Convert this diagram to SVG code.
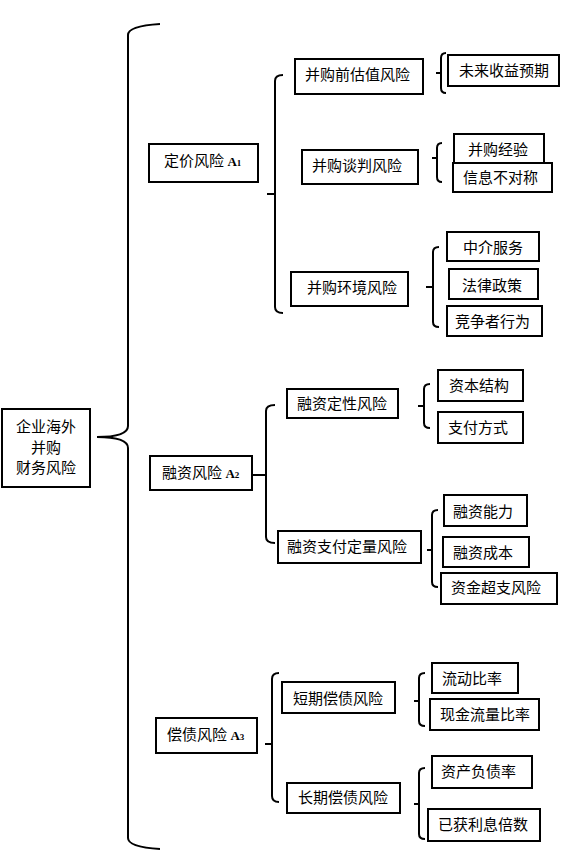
<svg xmlns="http://www.w3.org/2000/svg" width="568" height="861" viewBox="0 0 568 861">
<style>
.box{fill:#fff;stroke:#000;stroke-width:2}
.t{font-family:"Noto Sans CJK SC","Noto Sans",sans-serif;font-size:15px;fill:#000}
.a{font-family:"Liberation Serif",serif;font-size:13px;font-weight:bold;fill:#000}
.s{font-size:9px}
.br{fill:none;stroke:#000;stroke-width:2}
</style>
<rect width="568" height="861" fill="#fff"/>
<g id="connectors">
<path class="br" d="M160,24 Q128,26 128,35 L128,426 Q128,437 97,437 Q128,437 128,448 L128,838 Q128,847 160,849"/>
<path class="br" d="M283,75 Q275,75 275,81 L275,307 Q275,313 283,313 M267,194 L275,194"/>
<path class="br" d="M275,405 Q266,405 266,411 L266,537 Q266,543 275,543 M253,475 L266,475"/>
<path class="br" d="M279,673 Q272,673 272,679 L272,796 Q272,802 279,802 M265,744 L272,744"/>
<path class="br" d="M446,53 Q441,53 441,58 L441,88 Q441,93 446,93 M436,73 L441,73"/>
<path class="br" d="M442,143 Q437,143 437,148 L437,177 Q437,182 442,182 M432,158 L437,158"/>
<path class="br" d="M439,247 Q433,247 433,252 L433,322 Q433,327 439,327 M426,287 L433,287"/>
<path class="br" d="M430,384 Q424,384 424,389 L424,423 Q424,428 430,428 M418,406 L424,406"/>
<path class="br" d="M438,510 Q432,510 432,515 L432,582 Q432,587 438,587 M427,550 L432,550"/>
<path class="br" d="M425,673 Q419,673 419,678 L419,721 Q419,726 425,726 M414,701 L419,701"/>
<path class="br" d="M425,768 Q419,768 419,773 L419,834 Q419,839 425,839 M414,804 L419,804"/>
</g>
<g id="root"><rect class="box" x="2" y="409" width="88" height="78"/>
<text class="t" x="46" y="432" text-anchor="middle">企业海外</text>
<text class="t" x="46" y="453" text-anchor="middle">并购</text>
<text class="t" x="46" y="473" text-anchor="middle">财务风险</text></g>
<g id="pricing"><rect class="box" x="149" y="144" width="109" height="38"/>
<text class="t" x="164" y="166">定价风险 <tspan class="a">A<tspan class="s">1</tspan></tspan></text></g>
<g id="financing"><rect class="box" x="150" y="456" width="102" height="34"/>
<text class="t" x="162" y="478">融资风险 <tspan class="a">A<tspan class="s">2</tspan></tspan></text></g>
<g id="solvency"><rect class="box" x="156" y="718" width="101" height="35"/>
<text class="t" x="167" y="740">偿债风险 <tspan class="a">A<tspan class="s">3</tspan></tspan></text></g>
<g id="n1"><rect class="box" x="295" y="59" width="128" height="35"/><text class="t" x="305" y="80">并购前估值风险</text></g>
<g id="n2"><rect class="box" x="302" y="150" width="116" height="34"/><text class="t" x="312" y="171">并购谈判风险</text></g>
<g id="n3"><rect class="box" x="291" y="272" width="117" height="34"/><text class="t" x="307" y="293">并购环境风险</text></g>
<g id="n4"><rect class="box" x="287" y="389" width="111" height="29"/><text class="t" x="297" y="409">融资定性风险</text></g>
<g id="n5"><rect class="box" x="278" y="531" width="143" height="32"/><text class="t" x="287" y="552">融资支付定量风险</text></g>
<g id="n6"><rect class="box" x="282" y="682" width="113" height="31"/><text class="t" x="293" y="704">短期偿债风险</text></g>
<g id="n7"><rect class="box" x="287" y="783" width="113" height="30"/><text class="t" x="298" y="803">长期偿债风险</text></g>
<g id="l1"><rect class="box" x="448" y="55" width="111" height="31"/><text class="t" x="459" y="76">未来收益预期</text></g>
<g id="l2"><rect class="box" x="454" y="134" width="90" height="29"/><text class="t" x="468" y="155">并购经验</text></g>
<g id="l3"><rect class="box" x="453" y="163" width="99" height="29"/><text class="t" x="463" y="183">信息不对称</text></g>
<g id="l4"><rect class="box" x="447" y="232" width="92" height="29"/><text class="t" x="463" y="253">中介服务</text></g>
<g id="l5"><rect class="box" x="449" y="269" width="89" height="30"/><text class="t" x="462" y="291">法律政策</text></g>
<g id="l6"><rect class="box" x="447" y="306" width="95" height="30"/><text class="t" x="455" y="327">竞争者行为</text></g>
<g id="l7"><rect class="box" x="438" y="370" width="85" height="31"/><text class="t" x="449" y="391">资本结构</text></g>
<g id="l8"><rect class="box" x="438" y="412" width="85" height="31"/><text class="t" x="448" y="433">支付方式</text></g>
<g id="l9"><rect class="box" x="444" y="495" width="83" height="31"/><text class="t" x="453" y="517">融资能力</text></g>
<g id="l10"><rect class="box" x="443" y="537" width="86" height="30"/><text class="t" x="453" y="558">融资成本</text></g>
<g id="l11"><rect class="box" x="441" y="573" width="116" height="31"/><text class="t" x="451" y="593">资金超支风险</text></g>
<g id="l12"><rect class="box" x="432" y="663" width="86" height="30"/><text class="t" x="442" y="684">流动比率</text></g>
<g id="l13"><rect class="box" x="430" y="699" width="109" height="31"/><text class="t" x="440" y="720">现金流量比率</text></g>
<g id="l14"><rect class="box" x="432" y="756" width="100" height="32"/><text class="t" x="441" y="777">资产负债率</text></g>
<g id="l15"><rect class="box" x="428" y="809" width="112" height="32"/><text class="t" x="438" y="830">已获利息倍数</text></g>
</svg>
